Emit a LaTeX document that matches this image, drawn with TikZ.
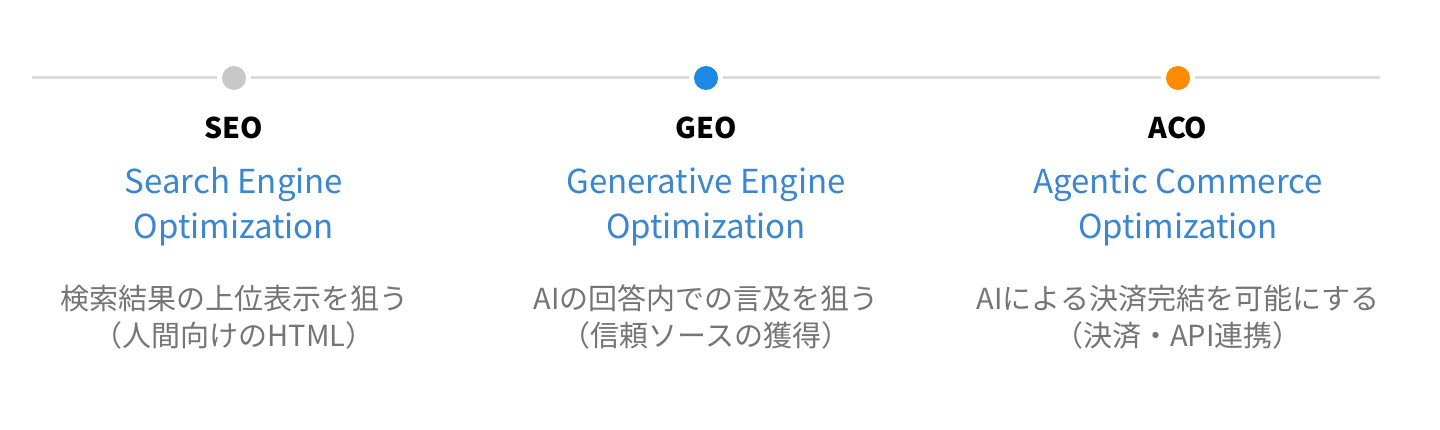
\documentclass[tikz,border=0pt]{standalone}
\usepackage{fontspec}
\setmainfont{Noto Sans CJK JP}
\definecolor{linegray}{HTML}{DCDCDC}
\definecolor{dotgray}{HTML}{C8C8C8}
\definecolor{dotblue}{HTML}{1E88E5}
\definecolor{dotorange}{HTML}{FF8C00}
\definecolor{titleblue}{HTML}{3A86D0}
\definecolor{descgray}{HTML}{757575}
\tikzset{
  dot/.style={circle, inner sep=0pt, minimum size=24pt, outer sep=5pt},
  track/.style={draw=linegray, line width=3pt},
  abbr/.style={font=\fontsize{28.5}{32}\selectfont\bfseries, text=black, anchor=center, inner sep=0pt},
  fullname/.style={font=\fontsize{33}{45}\selectfont, text=titleblue, align=center, inner sep=0pt, anchor=center},
  desc/.style={font=\fontsize{29}{37}\selectfont, text=descgray, align=center, inner sep=0pt, anchor=center}
}
\begin{document}
\begin{tikzpicture}[x=1pt,y=-1pt]
\useasboundingbox (0,0) rectangle (1440,430);
\fill[white] (0,0) rectangle (1440,430);
\coordinate (L) at (32,78);
\coordinate (R) at (1380,78);
\node[dot, fill=dotgray] (d1) at (234,78) {};
\node[dot, fill=dotblue] (d2) at (706,78) {};
\node[dot, fill=dotorange] (d3) at (1178,78) {};
\draw[track] (L) -- (d1);
\draw[track] (d1) -- (d2);
\draw[track] (d2) -- (d3);
\draw[track] (d3) -- (R);

\node[abbr] (a1) at (234,128) {SEO};
\node[abbr] (a2) at (706,128) {GEO};
\node[abbr] (a3) at (1178,128) {ACO};

\node[fullname] (f1) at (234,207) {Search Engine\\Optimization};
\node[fullname] (f2) at (706,207) {Generative Engine\\Optimization};
\node[fullname] (f3) at (1178,207) {Agentic Commerce\\Optimization};

\node[desc] (t1) at (234,317) {検索結果の上位表示を狙う\\（人間向けのHTML）};
\node[desc] (t2) at (706,317) {AIの回答内での言及を狙う\\（信頼ソースの獲得）};
\node[desc] (t3) at (1178,317) {AIによる決済完結を可能にする\\（決済・API連携）};
\end{tikzpicture}
\end{document}
